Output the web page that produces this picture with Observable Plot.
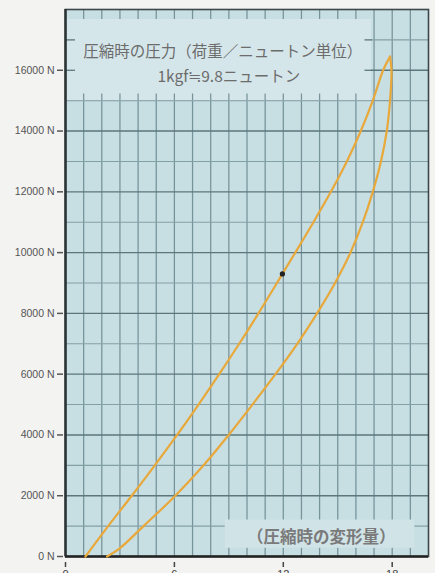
<!DOCTYPE html>
<html><head><meta charset="utf-8">
<script src="https://cdn.jsdelivr.net/npm/d3@7"></script>
<script src="https://cdn.jsdelivr.net/npm/@observablehq/plot@0.6"></script>
<style>
html,body{margin:0;padding:0;background:#f3f3f1;overflow:hidden}
#chart svg{display:block}
</style></head><body><div id="chart"></div>
<script>
// loading curve (upper-left branch): deformation (grid units) vs force (N)
const loadX = [1.10, 2.35, 3.65, 4.92, 6.15, 7.33, 8.47, 9.57, 10.63, 11.65, 11.95, 12.66, 13.66, 14.62, 15.50, 16.27, 16.93, 17.50, 17.88];
const loadY = [0, 1000, 2000, 3000, 4000, 5000, 6000, 7000, 8000, 9000, 9300, 10000, 11000, 12000, 13000, 14000, 15000, 16000, 16450];
// unloading curve (lower-right branch)
const unloadX = [2.29, 2.95, 4.30, 6.05, 7.61, 8.99, 10.30, 11.57, 12.77, 13.86, 14.85, 15.70, 16.38, 16.93, 17.38, 17.70, 17.88, 17.96, 17.88];
const unloadY = [0, 250, 1000, 2000, 3000, 4000, 5000, 6000, 7000, 8000, 9000, 10000, 11000, 12000, 13000, 14000, 15000, 16000, 16450];
const markerX = [11.95];
const markerY = [9300];

const yTicks = [0, 2000, 4000, 6000, 8000, 10000, 12000, 14000, 16000];
const yTickLabels = ["0 N", "2000 N", "4000 N", "6000 N", "8000 N", "10000 N", "12000 N", "14000 N", "16000 N"];
const xTicks = [0, 6, 12, 18];
const xTickLabels = ["0", "6", "12", "18"];
const vGrid = [1, 2, 3, 4, 5, 6, 7, 8, 9, 10, 11, 12, 13, 14, 15, 16, 17, 18, 19];
const hGridMinor = [1000, 3000, 5000, 7000, 9000, 11000, 13000, 15000, 17000];
const hGridMajor = [2000, 4000, 6000, 8000, 10000, 12000, 14000, 16000];
const titleLines = ["圧縮時の圧力（荷重／ニュートン単位）", "1kgf≒9.8ニュートン"];
const captionText = "（圧縮時の変形量）";

const loadData = loadX.map((x, i) => ({x, y: loadY[i]}));
const unloadData = unloadX.map((x, i) => ({x, y: unloadY[i]}));
const markerData = markerX.map((x, i) => ({x, y: markerY[i]}));
const titleBox = [{x1: 0, x2: 16.85, y1: 15000, y2: 17670}];
const captionBox = [{x1: 8.8, x2: 19.25, y1: 270, y2: 1200}];

const cjk = "'Noto Sans CJK JP', 'Noto Sans', sans-serif";
const vCol = "#76939a", hMinCol = "#83a0a5", hMajCol = "#5b777c";

const chart = Plot.plot({
  width: 435,
  height: 590,
  marginLeft: 65,
  marginRight: 7,
  marginTop: 9,
  marginBottom: 34,
  x: {domain: [0, 20]},
  y: {domain: [0, 18000]},
  style: {fontFamily: "'Liberation Sans', Arial, sans-serif", background: "transparent", overflow: "visible"},
  marks: [
    Plot.frame({fill: "#c7dee3", stroke: null}),
    Plot.ruleX(vGrid, {stroke: vCol, strokeWidth: 1.25}),
    Plot.ruleY(hGridMinor, {stroke: hMinCol, strokeWidth: 1.1}),
    Plot.ruleY(hGridMajor, {stroke: hMajCol, strokeWidth: 1.4}),
    // title box
    Plot.rect(titleBox, {x1: "x1", x2: "x2", y1: "y1", y2: "y2", fill: "#d5e6ea"}),
    Plot.ruleX(vGrid.filter(v => v < 16.85), {y1: 15000, y2: 15220, stroke: vCol, strokeWidth: 1.25}),
    Plot.ruleY([16000, 17000], {x1: 0, x2: 0.55, stroke: hMajCol, strokeWidth: 1.3}),
    Plot.ruleY([16000, 17000], {x1: 16.5, x2: 16.9, stroke: hMajCol, strokeWidth: 1.3}),
    // caption box
    Plot.rect(captionBox, {x1: "x1", x2: "x2", y1: "y1", y2: "y2", fill: "#d0e3e7"}),
    // texts
    Plot.text([titleLines[0]], {x: 8.67, y: 16590, text: d => d, fontSize: 15.5, fill: "#6c6c6c", fontFamily: cjk}),
    Plot.text([titleLines[1]], {x: 9.0, y: 15770, text: d => d, fontSize: 15.5, fill: "#6c6c6c", fontFamily: cjk}),
    Plot.text([captionText], {x: 14.09, y: 625, text: d => d, fontSize: 16.5, fontWeight: "bold", fill: "#7a7a7a", fontFamily: cjk}),
    // frame
    Plot.frame({stroke: "#3c4749", strokeWidth: 1.6}),
    Plot.ruleX([0], {stroke: "#2b3335", strokeWidth: 2.5}),
    Plot.ruleY([0], {stroke: "#222", strokeWidth: 2.5}),
    // curves
    Plot.line(loadData, {x: "x", y: "y", stroke: "#e8a83a", strokeWidth: 2.2, curve: "catmull-rom"}),
    Plot.line(unloadData, {x: "x", y: "y", stroke: "#e8a83a", strokeWidth: 2.2, curve: "catmull-rom"}),
    Plot.dot(markerData, {x: "x", y: "y", r: 2.6, fill: "#222", stroke: null}),
    // axes
    Plot.axisY({ticks: yTicks, tickFormat: d => yTickLabels[yTicks.indexOf(d)], tickSize: 6, tickPadding: 3, dx: -2, fontSize: 10.5, color: "#555", strokeWidth: 1.5}),
    Plot.axisX({ticks: xTicks, tickFormat: d => xTickLabels[xTicks.indexOf(d)], tickSize: 5, tickPadding: 3, dy: 6, fontSize: 11, color: "#444", strokeWidth: 1.5})
  ]
});
document.getElementById("chart").appendChild(chart);
</script>
</body></html>
